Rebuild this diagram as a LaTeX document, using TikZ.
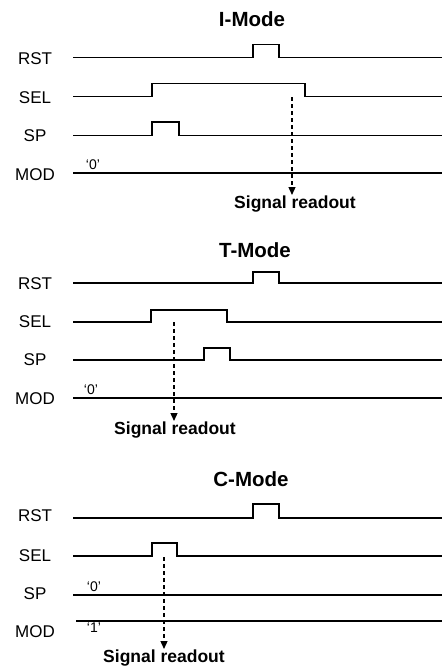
\documentclass[tikz,border=0pt]{standalone}
\usepackage{fontspec}
\setmainfont{Liberation Sans}
\usetikzlibrary{arrows.meta}
\begin{document}
\begin{tikzpicture}[x=1pt,y=-1pt,
  sig/.style={line width=1.7pt},
  lbl/.style={font=\fontsize{17}{17}\selectfont, inner sep=0pt, anchor=center},
  ttl/.style={font=\bfseries\fontsize{20.5}{20.5}\selectfont, inner sep=0pt},
  val/.style={font=\fontsize{14}{14}\selectfont, inner sep=0pt},
  readout/.style={font=\bfseries\fontsize{17.5}{17.5}\selectfont, inner sep=0pt, anchor=north},
  rd/.style={line width=1.3pt, dash pattern=on 4pt off 3pt, shorten >=1pt,
             -{Triangle[length=8pt,width=7pt]}}]
\useasboundingbox (0,0) rectangle (442,670);

% ---------------- I-Mode ----------------
\node[ttl] (t1) at (252,19) {I-Mode};
\node[lbl] (rst1) at (35,59) {RST};
\node[lbl] (sel1) at (35,98) {SEL};
\node[lbl] (sp1)  at (35,136) {SP};
\node[lbl] (mod1) at (35,175) {MOD};
\draw[sig] (73,57.5) -- (253,57.5) -- (253,44.5) -- (279,44.5) -- (279,57.5) -- (442,57.5);
\draw[sig] (73,96.5) -- (152,96.5) -- (152,83.5) -- (305,83.5) -- (305,96.5) -- (442,96.5);
\draw[sig] (73,135.5) -- (152,135.5) -- (152,122) -- (179,122) -- (179,135.5) -- (442,135.5);
\draw[sig] (73,173) -- (442,173);
\node[val] (v1) at (93,165) {`0'};
\coordinate (s1) at (292,97);
\node[readout] (r1) at (295,196) {Signal readout};
\draw[rd] (s1) -- (s1 |- r1.north);

% ---------------- T-Mode ----------------
\node[ttl] (t2) at (255,250) {T-Mode};
\node[lbl] (rst2) at (35,284) {RST};
\node[lbl] (sel2) at (35,322) {SEL};
\node[lbl] (sp2)  at (35,360) {SP};
\node[lbl] (mod2) at (35,399) {MOD};
\draw[sig] (73,283.3) -- (253,283.3) -- (253,272) -- (279,272) -- (279,283.3) -- (442,283.3);
\draw[sig] (73,322.3) -- (151,322.3) -- (151,310) -- (227,310) -- (227,322.3) -- (442,322.3);
\draw[sig] (73,360) -- (204,360) -- (204,347.7) -- (230,347.7) -- (230,360) -- (442,360);
\draw[sig] (73,398.3) -- (442,398.3);
\node[val] (v2) at (91,390) {`0'};
\coordinate (s2) at (174,322);
\node[readout] (r2) at (175,422) {Signal readout};
\draw[rd] (s2) -- (s2 |- r2.north);

% ---------------- C-Mode ----------------
\node[ttl] (t3) at (251,479) {C-Mode};
\node[lbl] (rst3) at (35,516) {RST};
\node[lbl] (sel3) at (35,556) {SEL};
\node[lbl] (sp3)  at (35,594) {SP};
\node[lbl] (mod3) at (35,632) {MOD};
\draw[sig] (73,517.7) -- (253,517.7) -- (253,504) -- (279,504) -- (279,517.7) -- (442,517.7);
\draw[sig] (73,555.7) -- (152,555.7) -- (152,543) -- (177,543) -- (177,555.7) -- (442,555.7);
\draw[sig] (73,595.3) -- (442,595.3);
\draw[sig] (76,620.7) -- (442,620.7);
\node[val] (v3) at (94,587) {`0'};
\node[val] (v4) at (94,628) {`1'};
\coordinate (s3) at (164,557);
\node[readout] (r3) at (164,650) {Signal readout};
\draw[rd] (s3) -- (s3 |- r3.north);
\end{tikzpicture}
\end{document}
